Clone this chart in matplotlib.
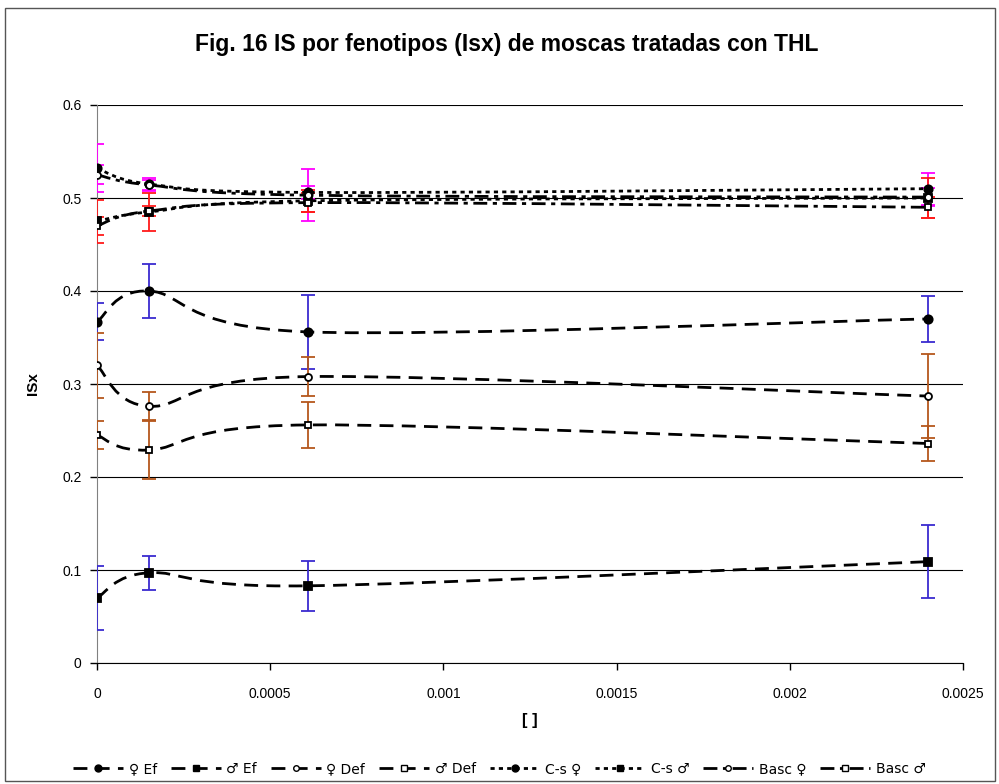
import matplotlib
matplotlib.use("Agg")
import matplotlib.pyplot as plt
import numpy as np
from matplotlib.path import Path
from matplotlib.patches import PathPatch, Rectangle
from matplotlib.lines import Line2D

plt.rcParams['font.family'] = ['Liberation Sans', 'DejaVu Sans']

# concentraciones de THL
conc = [0, 0.00015, 0.00061, 0.0024]

labels = ['♀ Ef', '♂ Ef', '♀ Def', '♂ Def', 'C-s ♀', 'C-s ♂', 'Basc ♀', 'Basc ♂']

ef_f = [0.367, 0.400, 0.356, 0.370]
ef_m = [0.070, 0.097, 0.083, 0.109]
def_f = [0.320, 0.276, 0.308, 0.287]
def_m = [0.245, 0.229, 0.256, 0.236]
cs_f = [0.532, 0.515, 0.506, 0.510]
cs_m = [0.475, 0.485, 0.497, 0.500]
basc_f = [0.525, 0.514, 0.503, 0.501]
basc_m = [0.470, 0.486, 0.495, 0.490]

ef_f_err = [0.020, 0.029, 0.040, 0.025]
ef_m_err = [0.034, 0.018, 0.027, 0.039]
def_f_err = [0.035, 0.015, 0.021, 0.045]
def_m_err = [0.015, 0.031, 0.025, 0.019]
cs_f_err = [0.026, 0.007, 0.007, 0.017]
cs_m_err = [0.023, 0.020, 0.012, 0.021]
basc_f_err = [0.010, 0.005, 0.028, 0.010]
basc_m_err = [0.010, 0.005, 0.010, 0.011]

series = [ef_f, ef_m, def_f, def_m, cs_f, cs_m, basc_f, basc_m]
errors = [ef_f_err, ef_m_err, def_f_err, def_m_err, cs_f_err, cs_m_err, basc_f_err, basc_m_err]

blue = '#3A2BD0'
brown = '#B5571C'
magenta = '#FF00FF'
red = '#FF1A1A'
err_colors = [blue, blue, brown, brown, magenta, red, magenta, red]

dash = (0, (5, 3))
dot = (0, (1.5, 1.5))
dashdot = (0, (5, 2, 1.5, 2))
styles = [dash, dash, dash, dash, dot, dot, dashdot, dashdot]
markers = ['o', 's', 'o', 's', 'o', 's', 'o', 's']
mfaces = ['black', 'black', 'white', 'white', 'black', 'black', 'white', 'white']
msizes = [6, 6, 5, 5, 6, 6, 5, 5]


def smooth_path(x, y):
    # curva suavizada tipo Excel (Bezier con tension 1/6)
    pts = np.column_stack([x, y]).astype(float)
    n = len(pts)
    verts = [pts[0]]
    codes = [Path.MOVETO]
    for i in range(n - 1):
        p0 = pts[max(i - 1, 0)]
        p1 = pts[i]
        p2 = pts[i + 1]
        p3 = pts[min(i + 2, n - 1)]
        c1 = p1 + (p2 - p0) / 6
        c2 = p2 - (p3 - p1) / 6
        verts += [c1, c2, p2]
        codes += [Path.CURVE4] * 3
    return Path(verts, codes)


fig = plt.figure(figsize=(9.99, 7.84), dpi=100)
ax = fig.add_axes([97 / 999, 1 - 663 / 784, 866 / 999, 558 / 784])

for k in range(len(series)):
    ax.errorbar(conc, series[k], yerr=errors[k], fmt='none', ecolor=err_colors[k],
                elinewidth=1.3, capsize=5, capthick=1.3, zorder=3)

for k in range(len(series)):
    patch = PathPatch(smooth_path(conc, series[k]), facecolor='none', edgecolor='black',
                      linewidth=2, linestyle=styles[k], zorder=4)
    ax.add_patch(patch)
    ax.plot(conc, series[k], linestyle='none', marker=markers[k], markersize=msizes[k],
            markerfacecolor=mfaces[k], markeredgecolor='black', markeredgewidth=1.3, zorder=5)

ax.set_xlim(0, 0.0025)
ax.set_ylim(0, 0.6)
ax.set_xticks([0, 0.0005, 0.001, 0.0015, 0.002, 0.0025])
ax.set_xticklabels(['0', '0.0005', '0.001', '0.0015', '0.002', '0.0025'])
ax.set_yticks([0, 0.1, 0.2, 0.3, 0.4, 0.5, 0.6])
ax.set_yticklabels(['0', '0.1', '0.2', '0.3', '0.4', '0.5', '0.6'])
ax.tick_params(labelsize=10, length=5, width=1, pad=6)
ax.tick_params(axis='x', pad=12)
ax.grid(axis='y', color='black', linewidth=0.8)
ax.set_axisbelow(True)
for s in ['top', 'right']:
    ax.spines[s].set_visible(False)
ax.spines['left'].set_color('#808080')
ax.spines['bottom'].set_color('black')

ax.set_ylabel('ISx', fontsize=11, fontweight='bold', labelpad=16)
ax.set_xlabel('[ ]', fontsize=12, fontweight='bold', labelpad=9)
fig.text(0.507, 1 - 45 / 784, 'Fig. 16 IS por fenotipos (Isx) de moscas tratadas con THL',
         ha='center', va='center', fontsize=16.5, fontweight='bold')

handles = []
for k in range(len(series)):
    handles.append(Line2D([0], [0], color='black', linewidth=2, linestyle=styles[k],
                          marker=markers[k], markersize=msizes[k] - 1,
                          markerfacecolor=mfaces[k], markeredgecolor='black'))
fig.legend(handles, labels, loc='center', bbox_to_anchor=(0.5, 1 - 769 / 784), ncol=8,
           frameon=False, fontsize=10.5, handlelength=3.6, handletextpad=0.4,
           columnspacing=1.0, prop={'family': ['DejaVu Sans'], 'size': 10})

fig.add_artist(Rectangle((5 / 999, 3 / 784), 990 / 999, 773 / 784, transform=fig.transFigure,
                         fill=False, edgecolor='#555555', linewidth=1))

fig.savefig('out.png', dpi=100)
